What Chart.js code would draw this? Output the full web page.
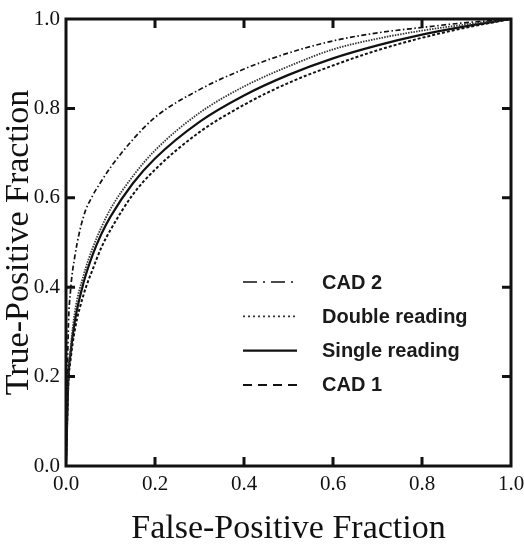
<!DOCTYPE html>
<html>
<head>
<meta charset="utf-8">
<script src="https://cdn.jsdelivr.net/npm/chart.js@4.4.1/dist/chart.umd.min.js"></script>
<style>
  body { margin: 0; background: #fff; }
  canvas { display: block; }
</style>
</head>
<body>
<canvas id="chart" width="524" height="544"></canvas>
<script>
// false-positive fraction at which each curve was read
var fpf = [0, 0.005, 0.01, 0.02, 0.04, 0.06, 0.08, 0.1, 0.15, 0.2, 0.3, 0.4, 0.5, 0.6, 0.7, 0.8, 0.9, 1.0];

// true-positive fraction of each reading condition
var cad2 = [0, 0.30, 0.39, 0.47, 0.56, 0.605, 0.638, 0.668, 0.73, 0.78, 0.842, 0.888, 0.924, 0.951, 0.969, 0.981, 0.992, 1];
var doubleReading = [0, 0.20, 0.26, 0.345, 0.428, 0.488, 0.535, 0.575, 0.648, 0.706, 0.790, 0.849, 0.894, 0.932, 0.956, 0.974, 0.988, 1];
var singleReading = [0, 0.19, 0.25, 0.325, 0.412, 0.473, 0.52, 0.558, 0.632, 0.688, 0.77, 0.829, 0.875, 0.912, 0.941, 0.965, 0.984, 1];
var cad1 = [0, 0.18, 0.235, 0.305, 0.385, 0.44, 0.49, 0.528, 0.607, 0.663, 0.747, 0.808, 0.857, 0.896, 0.93, 0.958, 0.981, 1];

var seriesNames = ['CAD 2', 'Double reading', 'Single reading', 'CAD 1'];
var tickValues = [0, 0.2, 0.4, 0.6, 0.8, 1.0];

function points(tpf) {
    var out = [];
    for (var i = 0; i < fpf.length; i++) {
        out.push({ x: fpf[i], y: tpf[i] });
    }
    return out;
}

var serif = '"Liberation Serif", "Times New Roman", serif';

// legend drawn inside the plot, lower right
var insideLegend = {
    id: 'insideLegend',
    afterDatasetsDraw: function (chart) {
        var ctx = chart.ctx;
        var legendDash = [[14, 6, 2, 6], [2, 3], [], [9, 6]];
        ctx.save();
        ctx.font = 'bold 20px "Liberation Sans", Arial, sans-serif';
        ctx.textBaseline = 'middle';
        ctx.fillStyle = '#1a1a1a';
        for (var i = 0; i < chart.data.datasets.length; i++) {
            var ds = chart.data.datasets[i];
            var y = 282 + i * 34.3;
            ctx.beginPath();
            ctx.setLineDash(legendDash[i]);
            ctx.lineWidth = ds.borderWidth;
            ctx.strokeStyle = ds.borderColor;
            ctx.moveTo(243, y);
            ctx.lineTo(297, y);
            ctx.stroke();
            ctx.fillText(ds.label, 322, y + 1);
        }
        ctx.restore();
    }
};

// heavy frame with inward ticks on all four sides
var frame = {
    id: 'frame',
    afterDraw: function (chart) {
        var ctx = chart.ctx;
        var a = chart.chartArea;
        var xs = chart.scales.x, ys = chart.scales.y;
        var len = 9;
        ctx.save();
        ctx.strokeStyle = '#111';
        ctx.lineWidth = 3;
        ctx.setLineDash([]);
        ctx.strokeRect(a.left, a.top, a.right - a.left, a.bottom - a.top);
        ctx.beginPath();
        for (var i = 1; i < tickValues.length - 1; i++) {
            var px = xs.getPixelForValue(tickValues[i]);
            ctx.moveTo(px, a.bottom);
            ctx.lineTo(px, a.bottom - len);
            ctx.moveTo(px, a.top);
            ctx.lineTo(px, a.top + len);
            var py = ys.getPixelForValue(tickValues[i]);
            ctx.moveTo(a.left, py);
            ctx.lineTo(a.left + len, py);
            ctx.moveTo(a.right, py);
            ctx.lineTo(a.right - len, py);
        }
        ctx.stroke();
        ctx.restore();
    }
};

var ctx = document.getElementById('chart');
var myChart = new Chart(ctx, {
    type: 'line',
    data: {
        datasets: [
            { label: seriesNames[0], data: points(cad2), borderColor: '#111', borderWidth: 1.7, borderDash: [5, 2.5, 1.5, 2.5] },
            { label: seriesNames[1], data: points(doubleReading), borderColor: '#333', borderWidth: 1.8, borderDash: [1.5, 1.2] },
            { label: seriesNames[2], data: points(singleReading), borderColor: '#111', borderWidth: 2.2, borderDash: [] },
            { label: seriesNames[3], data: points(cad1), borderColor: '#111', borderWidth: 2, borderDash: [3, 2] }
        ]
    },
    options: {
        responsive: false,
        animation: false,
        parsing: false,
        cubicInterpolationMode: 'monotone',
        elements: { point: { radius: 0 }, line: { fill: false } },
        layout: { padding: { top: 19, right: 13, left: 0, bottom: 0 } },
        plugins: { legend: { display: false }, tooltip: { enabled: false } },
        scales: {
            x: {
                type: 'linear', min: 0, max: 1,
                afterBuildTicks: function (scale) {
                    scale.ticks = tickValues.map(function (v) { return { value: v }; });
                },
                afterFit: function (scale) {
                    scale.height = 78;
                    scale.paddingLeft = 0;
                    scale.paddingRight = 0;
                },
                grid: { display: false, drawTicks: false },
                border: { display: false },
                ticks: {
                    color: '#111', padding: 6,
                    font: { family: serif, size: 21 },
                    callback: function (v) { return v.toFixed(1); }
                },
                title: {
                    display: true, text: 'False-Positive Fraction', color: '#111',
                    font: { family: serif, size: 34, lineHeight: 1 },
                    padding: { top: 0, bottom: -2 }
                }
            },
            y: {
                type: 'linear', min: 0, max: 1,
                afterBuildTicks: function (scale) {
                    scale.ticks = tickValues.map(function (v) { return { value: v }; });
                },
                afterFit: function (scale) {
                    scale.width = 66;
                    scale.paddingTop = 0;
                    scale.paddingBottom = 0;
                },
                grid: { display: false, drawTicks: false },
                border: { display: false },
                ticks: {
                    color: '#111', padding: 6,
                    font: { family: serif, size: 21 },
                    callback: function (v) { return v.toFixed(1); }
                },
                title: {
                    display: true, text: 'True-Positive Fraction', color: '#111',
                    font: { family: serif, size: 34, lineHeight: 1 },
                    padding: { top: 2, bottom: 0 }
                }
            }
        }
    },
    plugins: [insideLegend, frame]
});
</script>
</body>
</html>
